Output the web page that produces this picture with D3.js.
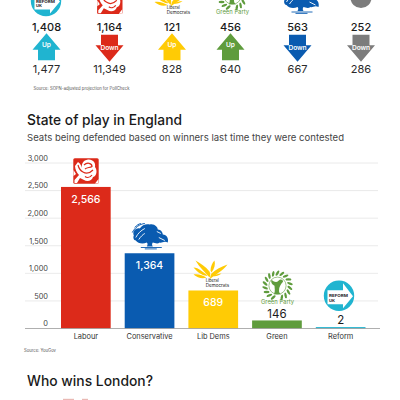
<!DOCTYPE html>
<html><head><meta charset="utf-8">
<script src="https://cdn.jsdelivr.net/npm/d3@7"></script>
<style>html,body{margin:0;padding:0;background:#fff;overflow:hidden}svg{display:block}text{font-family:Inter,"Liberation Sans",sans-serif}</style>
</head><body><svg id="c" width="400" height="400"></svg>
<script>
// ---- data ----
const topParties = ["Reform","Labour","Lib Dems","Green","Conservative","Other"];
const topSeats = [1408,1164,121,456,563,252];
const topChange = [1477,11349,828,640,667,286];
const topDirection = ["Up","Down","Up","Up","Down","Down"];
const barParties = ["Labour","Conservative","Lib Dems","Green","Reform"];
const barSeats = [2566,1364,689,146,2];
const yTicks = [0,500,1000,1500,2000,2500,3000];

// ---- styles ----
const colour = {Reform:"#20b4d0",Labour:"#dc2a1a",Conservative:"#0a5bb0","Lib Dems":"#ffcb05",Green:"#5f9c3d",Other:"#7c7c7c"};
const svg = d3.select("#c");
const fmt = d3.format(",");
const ink = "#1a1a1a";

// ---- logos ----
function rose(g){
  g.append("rect").attr("x",-12.7).attr("y",-12.7).attr("width",25.4).attr("height",25.4).attr("rx",1.5).attr("fill",colour.Labour);
  g.append("path").attr("fill","#fff").attr("d","M-8,-9 C-5,-7 -5,-5 -4,-3 C-5,-6 -3,-11 2,-11.5 C7,-12 10,-8 9,-4 C11.5,-1 11,5 7,6 C6,10 1,11 -2,9 L-6,7 L-9,12 L-11.5,12 L-11.5,9 L-7,4 C-9,2 -11,-2 -11,-5 Z");
  g.append("path").attr("fill","none").attr("stroke",colour.Labour).attr("stroke-width",1.2).attr("d","M-2,-6 C1,-9 6,-8 6,-4.5 C4,-3 1,-4 -1,-2 M-3,1 C0,3 4,2 7,-1 M-1,5.5 C1,7 4,6.5 6,4 M-8,-6 C-7,-2 -5,0 -3,1");
  g.append("path").attr("fill","#fff").attr("d","M9,12.5 L12.5,12.5 L12.5,8 Z M-12.5,-1 L-10,3 L-12.5,5 Z");
}
function tree(g){
  const c = colour.Conservative;
  g.append("path").attr("fill",c).attr("d","M-16,-1 C-18,-6 -13,-9 -10,-8 C-8,-12 -3,-13 0,-12 C5,-13 8,-9 8,-7 C12,-7 13,-3 13,-2 C17,-2 19,2 18,6 C14,4 12,7 10,6 C7,8 5,6 3,6 C2,7 2,9 3,10 L-3,10 C-2,8 -2,7 -3,6 C-7,8 -12,7 -14,4 C-16,4 -17,1 -16,-1 Z");
  g.append("path").attr("fill","none").attr("stroke",c).attr("stroke-width",1).attr("d","M-17.5,-4 C-15,-9 -10,-12.5 -5,-13 M-15,-9 C-13,-11.5 -11,-12.5 -9,-13");
  g.append("path").attr("fill","none").attr("stroke","#fff").attr("stroke-width",.9).attr("d","M-14,1 C-12,-3 -9,-6 -5,-8 M-11,3 C-9,0 -7,-2 -5,-3 M9,1 L15,4 M7,-5 L11,-3");
  g.append("path").attr("fill","none").attr("stroke",c).attr("stroke-width",.9).attr("d","M-9,11 L12,11 M-5,12.4 L7,12.4");
}
function bird(g){
  const y = colour["Lib Dems"];
  g.append("path").attr("fill",y).attr("d","M-15,-15 C-10,-12 -5,-9 -1,-4 C0,-2 0,0 -1,2 C-5,-3 -11,-8 -15,-15 Z M-17,-8 C-12,-8 -7,-3 -3,0 C-6,1 -12,-2 -17,-8 Z M-17,-1 C-12,-2 -8,0 -4,2 C-8,3.5 -13,2.5 -17,-1 Z");
  g.append("path").attr("fill",y).attr("d","M17,-11 C11,-9 5,-6 1,-2 C0,0 -.5,2 -.5,3.5 C3,0 12,-4 17,-11 Z M0,-5 C0,-9 2,-13 4,-15 C5,-11 4,-7 1,-3 Z M11,-2 C8,-2 5,-1 2,1 C5,1 9,0 11,-2 Z");
  g.append("text").attr("x",-4.8).attr("y",6).attr("font-size",4.6).attr("textLength",13).attr("lengthAdjust","spacingAndGlyphs").attr("fill",ink).text("Liberal");
  g.append("text").attr("x",-4.8).attr("y",11).attr("font-size",4.6).attr("textLength",23.5).attr("lengthAdjust","spacingAndGlyphs").attr("fill",ink).text("Democrats");
}
function greenLogo(g){
  const c = colour.Green;
  const angles = d3.range(-160,180,20);
  g.selectAll("ellipse.leaf").data(angles).join("ellipse").attr("class","leaf")
    .attr("rx",1.2).attr("ry",3).attr("fill",c)
    .attr("transform",a=>`rotate(${a}) translate(0,-12.6) rotate(30)`);
  g.append("circle").attr("r",8.6).attr("fill","none").attr("stroke",c).attr("stroke-width",.6);
  g.append("path").attr("fill",c).attr("d","M-6,-6 C-3,-3.5 -1,-3 1,-5 C3,-7 5.5,-6 5.5,-4 C3,-1 1.5,1 1.5,5 C1.5,7 2.5,8 3.5,8.5 L-3.5,8.5 C-2,5 -3,2 -3,0 C-5,-1 -7,-3 -6,-6 Z");
  g.append("text").attr("x",0).attr("y",18.6).attr("text-anchor","middle").attr("font-size",5.6).attr("textLength",33).attr("lengthAdjust","spacingAndGlyphs").attr("fill",c).text("Green Party");
}
function reform(g){
  g.append("circle").attr("r",15.2).attr("fill",colour.Reform);
  g.append("path").attr("fill","#fff").attr("d","M-11.5,-5.5 L4,-5.5 L4,-12.5 L14,0.5 L4,12.5 L4,8.5 L-11.5,8.5 Z");
  [["REFORM",1.6,19],["UK",6.2,6]].forEach(([t,b,w])=>{
    g.append("text").attr("x",-10).attr("y",b).attr("font-size",4.1).attr("font-weight",700).attr("font-family","DejaVu Sans Mono")
     .attr("textLength",w).attr("lengthAdjust","spacingAndGlyphs").attr("fill",ink).text(t);
  });
}
function other(g){ g.append("circle").attr("r",10.6).attr("fill",colour.Other); }
const logo = {Labour:rose,Conservative:tree,"Lib Dems":bird,Green:greenLogo,Reform:reform,Other:other};

// ---- top strip ----
const topX = d3.scaleOrdinal().domain(topParties).range([46.5,109.5,172,230.5,297.5,361]);
const topLogo = {Reform:[46,1],Labour:[109.8,1.3],"Lib Dems":[171.5,3],Green:[232.5,-4.3],Conservative:[300.5,1],Other:[361,-2.6]};
topParties.forEach(p=>{
  const g = svg.append("g").attr("transform",`translate(${topLogo[p]})`);
  logo[p](g);
});
const rows = topParties.map((p,i)=>({p,seats:topSeats[i],change:topChange[i],dir:topDirection[i]}));
svg.selectAll("text.seats").data(rows).join("text").attr("class","seats")
  .attr("x",d=>topX(d.p)).attr("y",31).attr("text-anchor","middle")
  .attr("font-size",11).attr("font-weight",500).attr("fill",ink).text(d=>fmt(d.seats));
svg.selectAll("text.chg").data(rows).join("text").attr("class","chg")
  .attr("x",d=>topX(d.p)).attr("y",73).attr("text-anchor","middle")
  .attr("font-size",11).attr("fill","#2a2a2a").text(d=>fmt(d.change));
const arrowUp = "M0,-14 L14,2.5 L8.5,2.5 L8.5,13 L-8.5,13 L-8.5,2.5 L-14,2.5 Z";
const arrowDown = "M-8.5,-13 L8.5,-13 L8.5,-2.5 L14,-2.5 L0,14 L-14,-2.5 L-8.5,-2.5 Z";
const arrows = svg.selectAll("g.arrow").data(rows).join("g").attr("class","arrow")
  .attr("transform",d=>`translate(${topX(d.p)},${d.dir==="Up"?47.3:47.7})`);
arrows.append("path").attr("d",d=>d.dir==="Up"?arrowUp:arrowDown).attr("fill",d=>colour[d.p]);
arrows.append("text").attr("text-anchor","middle").attr("y",d=>d.dir==="Up"?0:2.5)
  .attr("font-size",d=>d.dir==="Up"?6.6:6.6).attr("font-weight",600).attr("fill","#fff").text(d=>d.dir);
svg.append("text").attr("x",33.5).attr("y",90).attr("font-size",4.2).attr("textLength",96).attr("lengthAdjust","spacingAndGlyphs").attr("fill","#555").text("Source: SOPN-adjusted projection for PollCheck");

// ---- chart ----
svg.append("text").attr("x",27).attr("y",125).attr("font-size",14.5).attr("font-weight",500).attr("textLength",155).attr("lengthAdjust","spacingAndGlyphs").attr("fill",ink).text("State of play in England");
svg.append("text").attr("x",27).attr("y",141).attr("font-size",9.4).attr("textLength",317).attr("lengthAdjust","spacingAndGlyphs").attr("fill","#444").text("Seats being defended based on winners last time they were contested");

const x = d3.scaleBand().domain(barParties).range([61,365.5]).paddingInner(0.22).paddingOuter(0);
const y = d3.scaleLinear().domain([0,3000]).range([328.5,163]);

const yAxis = d3.axisLeft(y).tickValues(yTicks).tickFormat(fmt).tickSize(0);
const ya = svg.append("g").attr("transform","translate(48,0)").call(yAxis);
ya.select(".domain").remove();
ya.selectAll("text").attr("x",0).attr("dy",-2.6).attr("font-size",7.4).attr("fill","#444").style("font-family","Inter");
svg.selectAll("line.grid").data(yTicks.filter(t=>t>0)).join("line").attr("class","grid")
  .attr("x1",25).attr("x2",378).attr("y1",d=>y(d)).attr("y2",d=>y(d)).attr("stroke","#e4e4e4").attr("stroke-width",.8);

const bars = barParties.map((p,i)=>({p,v:barSeats[i]}));
svg.selectAll("rect.bar").data(bars).join("rect").attr("class","bar")
  .attr("x",d=>x(d.p)).attr("width",x.bandwidth())
  .attr("y",d=>Math.min(y(d.v),y(0)-1.4)).attr("height",d=>Math.max(y(0)-y(d.v),1.4))
  .attr("fill",d=>colour[d.p]);

const xAxis = d3.axisBottom(x).tickSize(0).tickPadding(5);
const xa = svg.append("g").attr("transform","translate(0,328.5)").call(xAxis);
xa.select(".domain").remove();
xa.selectAll("text").attr("font-size",7.4).attr("fill","#333").style("font-family","Inter");
svg.append("line").attr("x1",25).attr("x2",380).attr("y1",y(0)).attr("y2",y(0)).attr("stroke","#9a9a9a").attr("stroke-width",.8);

const inside = d=>d.v>500;
svg.selectAll("text.val").data(bars).join("text").attr("class","val")
  .attr("x",d=>x(d.p)+x.bandwidth()/2).attr("text-anchor","middle")
  .attr("y",d=>inside(d)?y(d.v)+16:y(d.v)-(d.v<10?4:2.4))
  .attr("font-size",d=>inside(d)?10.5:11.5).attr("font-weight",d=>inside(d)?500:400)
  .attr("fill",d=>inside(d)?"#fff":ink).text(d=>fmt(d.v));

const barLogo = {Labour:[86,171],Conservative:[149.8,236.5],"Lib Dems":[210.5,275.5],Green:[277.5,285.7],Reform:[339,295.7]};
barParties.forEach(p=>{
  const g = svg.append("g").attr("transform",`translate(${barLogo[p]})`);
  logo[p](g);
});
svg.append("text").attr("x",24).attr("y",351.5).attr("font-size",4.2).attr("textLength",32).attr("lengthAdjust","spacingAndGlyphs").attr("fill","#555").text("Source: YouGov");

// ---- next section, cut off by the frame ----
svg.append("text").attr("x",27).attr("y",386).attr("font-size",14.5).attr("font-weight",500).attr("textLength",126).attr("lengthAdjust","spacingAndGlyphs").attr("fill",ink).text("Who wins London?");
svg.append("rect").attr("x",63).attr("y",398.8).attr("width",11).attr("height",1.2).attr("fill","#e9b9b4");
svg.append("rect").attr("x",82).attr("y",398.8).attr("width",6).attr("height",1.2).attr("fill","#e9b9b4");
</script></body></html>
